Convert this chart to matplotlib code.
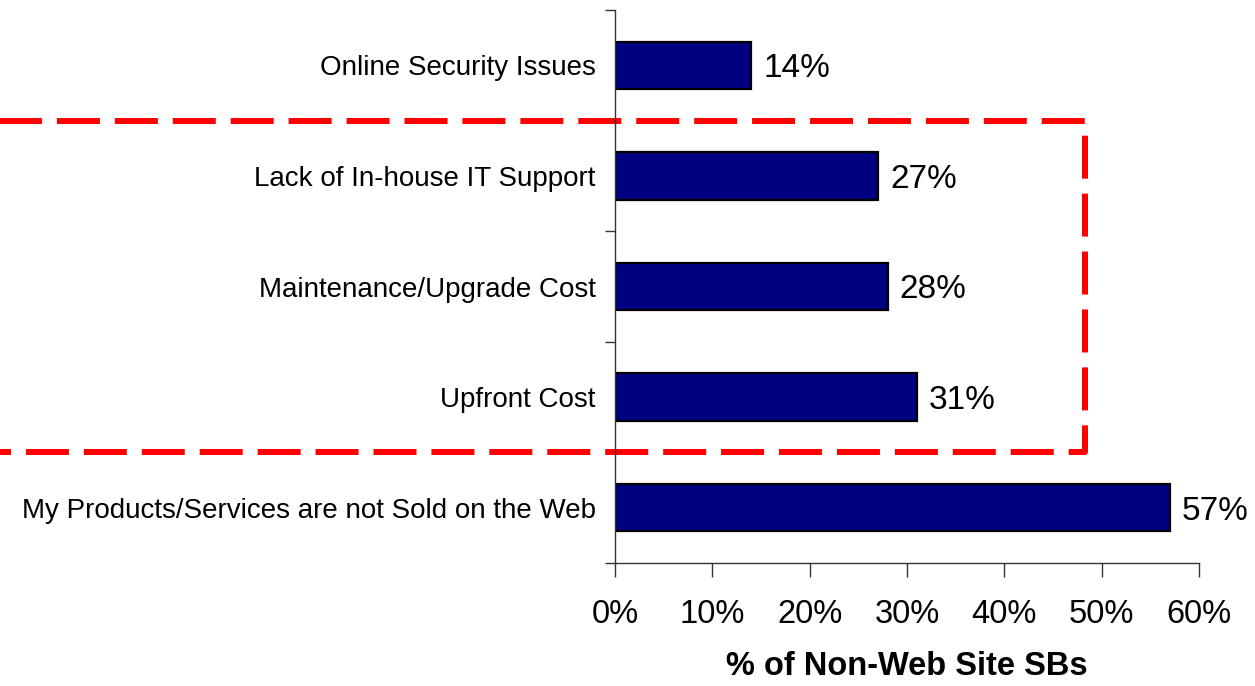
import matplotlib.pyplot as plt
from matplotlib.lines import Line2D
from matplotlib.ticker import FixedLocator, PercentFormatter

# data, top to bottom as in the chart
categories = [
    "Online Security Issues",
    "Lack of In-house IT Support",
    "Maintenance/Upgrade Cost",
    "Upfront Cost",
    "My Products/Services are not Sold on the Web",
]
values = [14, 27, 28, 31, 57]
xticks = [0, 10, 20, 30, 40, 50, 60]
highlight = ["Lack of In-house IT Support", "Upfront Cost"]  # first/last of boxed group

plt.rcParams["font.family"] = ["Liberation Sans", "DejaVu Sans"]

fig = plt.figure(figsize=(12.55, 6.86), dpi=100)
ax = fig.add_axes([0.490, 0.1793, 0.4654, 0.8061])

ypos = list(range(len(categories)))
ax.barh(ypos, values, height=0.43, color="#000080", edgecolor="black", linewidth=1.6)
ax.set_ylim(len(categories) - 0.5, -0.5)
ax.set_xlim(0, 60)

for y, v in zip(ypos, values):
    ax.text(v + 1.25, y + 0.03, f"{v}%", va="center", ha="left", fontsize=24)

ax.set_yticks(ypos)
ax.set_yticklabels(categories, fontsize=20)
ax.yaxis.set_minor_locator(FixedLocator([y - 0.5 for y in range(len(categories) + 1)]))
ax.tick_params(axis="y", which="major", length=0, pad=14)
ax.tick_params(axis="y", which="minor", length=7, width=1, color="#333333")

ax.set_xticks(xticks)
ax.xaxis.set_major_formatter(PercentFormatter(decimals=0))
ax.tick_params(axis="x", length=10, width=1, color="#333333", labelsize=23.5, pad=16)

ax.set_xlabel("% of Non-Web Site SBs", fontsize=23.5, fontweight="bold", labelpad=15)

for side in ["top", "right"]:
    ax.spines[side].set_visible(False)
for side in ["left", "bottom"]:
    ax.spines[side].set_color("#333333")
    ax.spines[side].set_linewidth(1)

# red dashed box around the cost group
i0 = categories.index(highlight[0]) - 0.5
i1 = categories.index(highlight[1]) + 0.5
x_right = 48.3
box = Line2D([-70, x_right, x_right, -70], [i0, i0, i1, i1], color="red",
             linewidth=4.3, linestyle=(0, (7.2, 2.5)), clip_on=False)
ax.add_line(box)

fig.savefig("out.png", dpi=100)
